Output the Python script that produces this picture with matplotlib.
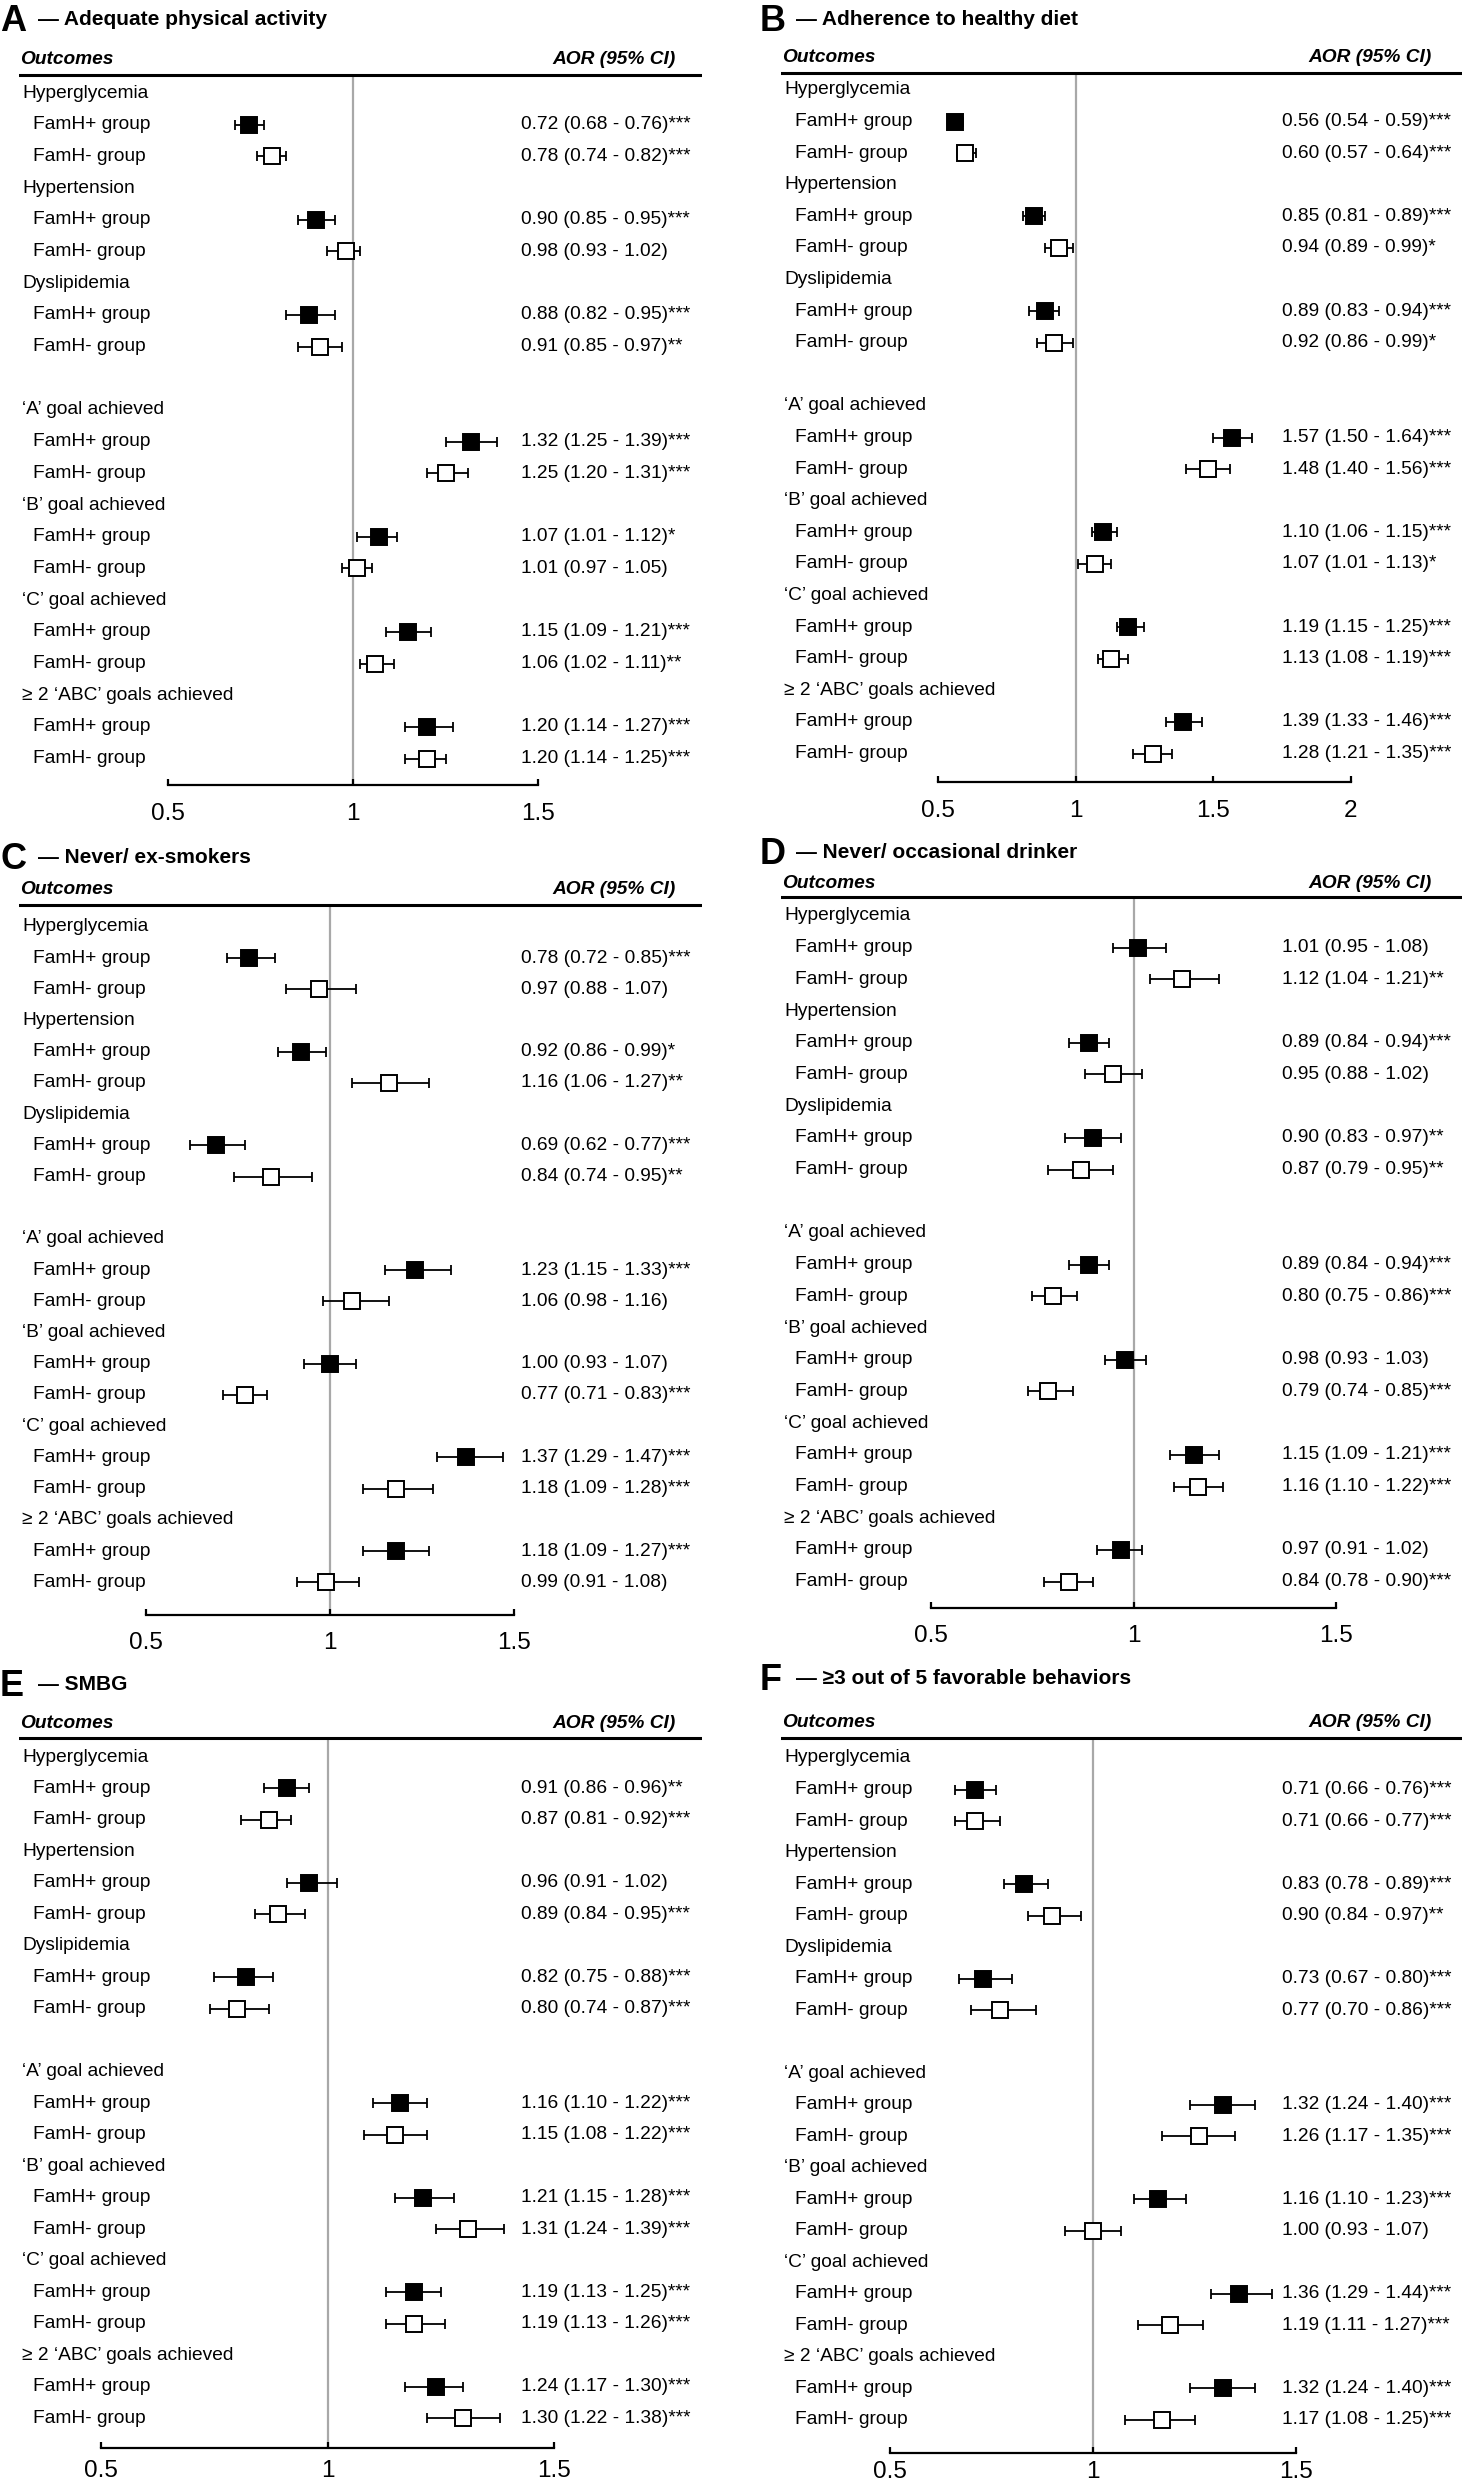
import matplotlib
matplotlib.use('Agg')
import matplotlib.pyplot as plt

plt.rcParams['font.family'] = ['Liberation Sans', 'DejaVu Sans']

outcomes = ['Hyperglycemia', 'Hypertension', 'Dyslipidemia',
            '\u2018A\u2019 goal achieved', '\u2018B\u2019 goal achieved',
            '\u2018C\u2019 goal achieved', '\u2265 2 \u2018ABC\u2019 goals achieved']
groups = ['FamH+ group', 'FamH- group']

# values per outcome: FamH+, FamH-, FamH+, FamH-, ...
# A - adequate physical activity
a_or = [0.72, 0.78, 0.90, 0.98, 0.88, 0.91, 1.32, 1.25, 1.07, 1.01, 1.15, 1.06, 1.20, 1.20]
a_lo = [0.68, 0.74, 0.85, 0.93, 0.82, 0.85, 1.25, 1.20, 1.01, 0.97, 1.09, 1.02, 1.14, 1.14]
a_hi = [0.76, 0.82, 0.95, 1.02, 0.95, 0.97, 1.39, 1.31, 1.12, 1.05, 1.21, 1.11, 1.27, 1.25]
a_sig = ['***', '***', '***', '', '***', '**', '***', '***', '*', '', '***', '**', '***', '***']

# B - adherence to healthy diet
b_or = [0.56, 0.60, 0.85, 0.94, 0.89, 0.92, 1.57, 1.48, 1.10, 1.07, 1.19, 1.13, 1.39, 1.28]
b_lo = [0.54, 0.57, 0.81, 0.89, 0.83, 0.86, 1.50, 1.40, 1.06, 1.01, 1.15, 1.08, 1.33, 1.21]
b_hi = [0.59, 0.64, 0.89, 0.99, 0.94, 0.99, 1.64, 1.56, 1.15, 1.13, 1.25, 1.19, 1.46, 1.35]
b_sig = ['***', '***', '***', '*', '***', '*', '***', '***', '***', '*', '***', '***', '***', '***']

# C - never / ex-smokers
c_or = [0.78, 0.97, 0.92, 1.16, 0.69, 0.84, 1.23, 1.06, 1.00, 0.77, 1.37, 1.18, 1.18, 0.99]
c_lo = [0.72, 0.88, 0.86, 1.06, 0.62, 0.74, 1.15, 0.98, 0.93, 0.71, 1.29, 1.09, 1.09, 0.91]
c_hi = [0.85, 1.07, 0.99, 1.27, 0.77, 0.95, 1.33, 1.16, 1.07, 0.83, 1.47, 1.28, 1.27, 1.08]
c_sig = ['***', '', '*', '**', '***', '**', '***', '', '', '***', '***', '***', '***', '']

# D - never / occasional drinker
d_or = [1.01, 1.12, 0.89, 0.95, 0.90, 0.87, 0.89, 0.80, 0.98, 0.79, 1.15, 1.16, 0.97, 0.84]
d_lo = [0.95, 1.04, 0.84, 0.88, 0.83, 0.79, 0.84, 0.75, 0.93, 0.74, 1.09, 1.10, 0.91, 0.78]
d_hi = [1.08, 1.21, 0.94, 1.02, 0.97, 0.95, 0.94, 0.86, 1.03, 0.85, 1.21, 1.22, 1.02, 0.90]
d_sig = ['', '**', '***', '', '**', '**', '***', '***', '', '***', '***', '***', '', '***']

# E - SMBG
e_or = [0.91, 0.87, 0.96, 0.89, 0.82, 0.80, 1.16, 1.15, 1.21, 1.31, 1.19, 1.19, 1.24, 1.30]
e_lo = [0.86, 0.81, 0.91, 0.84, 0.75, 0.74, 1.10, 1.08, 1.15, 1.24, 1.13, 1.13, 1.17, 1.22]
e_hi = [0.96, 0.92, 1.02, 0.95, 0.88, 0.87, 1.22, 1.22, 1.28, 1.39, 1.25, 1.26, 1.30, 1.38]
e_sig = ['**', '***', '', '***', '***', '***', '***', '***', '***', '***', '***', '***', '***', '***']

# F - >=3 out of 5 favorable behaviors
f_or = [0.71, 0.71, 0.83, 0.90, 0.73, 0.77, 1.32, 1.26, 1.16, 1.00, 1.36, 1.19, 1.32, 1.17]
f_lo = [0.66, 0.66, 0.78, 0.84, 0.67, 0.70, 1.24, 1.17, 1.10, 0.93, 1.29, 1.11, 1.24, 1.08]
f_hi = [0.76, 0.77, 0.89, 0.97, 0.80, 0.86, 1.40, 1.35, 1.23, 1.07, 1.44, 1.27, 1.40, 1.25]
f_sig = ['***', '***', '***', '**', '***', '***', '***', '***', '***', '', '***', '***', '***', '***']

ticks_std = [0.5, 1, 1.5]
ticks_b = [0.5, 1, 1.5, 2]

# column layout in figure pixels
left_col = dict(x0=19, x1=702, lbl=22, sub=33, val=521, out=20, aor=676, letter=0, dash=38)
right_col = dict(x0=781, x1=1462, lbl=784, sub=795, val=1282, out=782, aor=1432, letter=760, dash=796)

W, H = 1464, 2484
fig = plt.figure(figsize=(W / 100, H / 100), dpi=100)
FS = 13.8


def draw_panel(letter, title, ors, los, his, sig, ticks, col, p05, unit,
               title_y, out_y, line_y, row0, sp, axis_y, lpad):
    top = title_y - 25
    bottom = axis_y + 55
    ax = fig.add_axes([col['x0'] / W, 1 - bottom / H,
                       (col['x1'] - col['x0']) / W, (bottom - top) / H])

    def xd(px):
        return 0.5 + (px - p05) / unit

    ax.set_xlim(xd(col['x0']), xd(col['x1']))
    ax.set_ylim(bottom, top)

    # panel title
    ax.text(xd(col['letter']), title_y + 13, letter, fontsize=26, fontweight='bold',
            va='baseline', ha='left')
    ax.text(xd(col['dash']), title_y + 7, '\u2014 ' + title, fontsize=15,
            fontweight='bold', va='baseline', ha='left')

    # table header
    ax.text(xd(col['out']), out_y, 'Outcomes', fontsize=FS, fontweight='bold',
            fontstyle='italic', va='center', ha='left')
    ax.text(xd(col['aor']), out_y, 'AOR (95% CI)', fontsize=FS, fontweight='bold',
            fontstyle='italic', va='center', ha='right')
    ax.axhline(line_y, color='black', lw=2.2)
    ax.vlines(1, line_y, axis_y, color='#a8a8a8', lw=1.6, zorder=1)

    for k, name in enumerate(outcomes):
        head = 3 * k if k < 3 else 3 * k + 1
        ax.text(xd(col['lbl']), row0 + head * sp, name, fontsize=FS, va='center', ha='left')
        for g in range(2):
            i = 2 * k + g
            y = row0 + (head + 1 + g) * sp
            ax.text(xd(col['sub']), y, groups[g], fontsize=FS, va='center', ha='left')
            ax.errorbar([ors[i]], [y], xerr=[[ors[i] - los[i]], [his[i] - ors[i]]],
                        fmt='none', ecolor='black', elinewidth=1.3, capsize=3.6,
                        capthick=1.3, zorder=2)
            ax.plot([ors[i]], [y], marker='s', ms=11.5, mew=1.4, mec='black',
                    mfc='black' if g == 0 else 'white', ls='none', zorder=3)
            txt = f'{ors[i]:.2f} ({los[i]:.2f} - {his[i]:.2f}){sig[i]}'
            ax.text(xd(col['val']), y, txt, fontsize=FS, va='center', ha='left')

    for s in ['top', 'left', 'right']:
        ax.spines[s].set_visible(False)
    ax.spines['bottom'].set_position(('data', axis_y))
    ax.spines['bottom'].set_bounds(ticks[0], ticks[-1])
    ax.spines['bottom'].set_linewidth(1.6)
    ax.set_xticks(ticks)
    ax.set_xticklabels([f'{t:g}' for t in ticks])
    ax.tick_params(axis='x', direction='in', length=4.5, width=1.6,
                   labelsize=17.5, pad=lpad)
    ax.set_yticks([])
    ax.patch.set_alpha(0)
    return ax


draw_panel('A', 'Adequate physical activity', a_or, a_lo, a_hi, a_sig, ticks_std,
           left_col, 168, 370, 18, 60, 75, 93, 31.7, 785, 13)
draw_panel('B', 'Adherence to healthy diet', b_or, b_lo, b_hi, b_sig, ticks_b,
           right_col, 938, 275, 18, 58, 73, 90, 31.6, 782, 13)
draw_panel('C', 'Never/ ex-smokers', c_or, c_lo, c_hi, c_sig, ticks_std,
           left_col, 146, 368, 856, 890, 905, 927, 31.2, 1615, 12)
draw_panel('D', 'Never/ occasional drinker', d_or, d_lo, d_hi, d_sig, ticks_std,
           right_col, 931, 405, 851, 884, 897, 916, 31.7, 1608, 12)
draw_panel('E', 'SMBG', e_or, e_lo, e_hi, e_sig, ticks_std,
           left_col, 101, 453, 1683, 1723, 1738, 1757, 31.48, 2448, 8.5)
draw_panel('F', '\u22653 out of 5 favorable behaviors', f_or, f_lo, f_hi, f_sig, ticks_std,
           right_col, 890, 406, 1677, 1723, 1738, 1758, 31.52, 2453, 6)

fig.savefig('out.png', dpi=100, facecolor='white')
